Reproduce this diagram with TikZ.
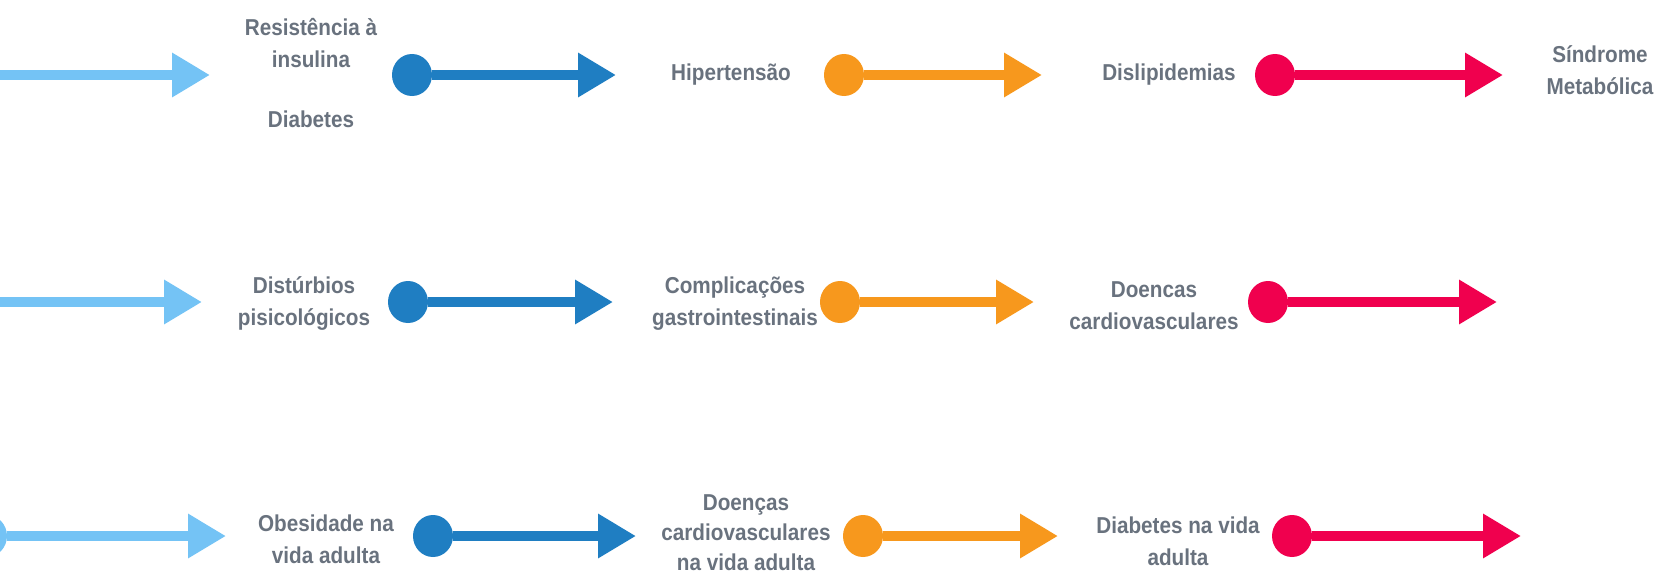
\documentclass[tikz,border=0pt]{standalone}
\usepackage{fontspec}
\setmainfont{Liberation Sans}[FakeStretch=0.9]
\usetikzlibrary{positioning,arrows.meta,shapes.geometric}
\definecolor{skyblue}{RGB}{116,195,245}
\definecolor{deepblue}{RGB}{31,126,194}
\definecolor{amber}{RGB}{247,152,29}
\definecolor{crimson}{RGB}{240,0,78}
\definecolor{textgray}{RGB}{105,114,126}

\begin{document}
\begin{tikzpicture}[x=1pt, y=-1pt,
    >={Triangle[length=38pt, width=42pt]},
    txt/.style={align=center, font=\fontsize{23}{32}\selectfont\bfseries, text=textgray, inner sep=0pt},
    bullet/.style={ellipse, fill=#1, minimum width=40pt, minimum height=42pt, inner sep=0pt},
    flow/.style={->, line width=9.5pt, draw=#1}]
    \useasboundingbox (0,0) rectangle (1671,578);
    \clip (0,0) rectangle (1671,578);

    % first chain
    \coordinate (s1) at (-10,75);
    \coordinate (a1) at (210,75);
    \node[txt] (resist) at (311,43) {Resistência à\\insulina};
    \node[txt] (diab) at (311,119) {Diabetes};
    \node[bullet=deepblue] (p1) at (412,75) {};
    \coordinate (b1) at (616,75);
    \node[txt] (hiper) at (731,75) {Hipertensão};
    \node[bullet=amber] (q1) at (844,75) {};
    \coordinate (c1) at (1042,75);
    \node[txt] (disl) at (1169,75) {Dislipidemias};
    \node[bullet=crimson] (r1) at (1275,75) {};
    \coordinate (d1) at (1503,75);
    \node[txt] (sind) at (1600,70) {Síndrome\\Metabólica};

    \draw[flow=skyblue] (s1) -- (a1);
    \draw[flow=deepblue] (p1) -- (b1);
    \draw[flow=amber] (q1) -- (c1);
    \draw[flow=crimson] (r1) -- (d1);

    % second chain
    \coordinate (s2) at (-10,302);
    \coordinate (a2) at (202,302);
    \node[txt] (dist) at (304,304) {Distúrbios\\pisicológicos};
    \node[bullet=deepblue] (p2) at (408,302) {};
    \coordinate (b2) at (613,302);
    \node[txt] (compl) at (735,304) {Complicações\\gastrointestinais};
    \node[bullet=amber] (q2) at (840,302) {};
    \coordinate (c2) at (1034,302);
    \node[txt] (doenc) at (1154,306) {Doencas\\cardiovasculares};
    \node[bullet=crimson] (r2) at (1268,302) {};
    \coordinate (d2) at (1497,302);

    \draw[flow=skyblue] (s2) -- (a2);
    \draw[flow=deepblue] (p2) -- (b2);
    \draw[flow=amber] (q2) -- (c2);
    \draw[flow=crimson] (r2) -- (d2);

    % third chain
    \node[bullet=skyblue] (o3) at (-13,536) {};
    \coordinate (a3) at (226,536);
    \node[txt] (obes) at (326,539) {Obesidade na\\vida adulta};
    \node[bullet=deepblue] (p3) at (433,536) {};
    \coordinate (b3) at (636,536);
    \node[txt, font=\fontsize{23}{30}\selectfont\bfseries] (dcard) at (746,533) {Doenças\\cardiovasculares\\na vida adulta};
    \node[bullet=amber] (q3) at (863,536) {};
    \coordinate (c3) at (1058,536);
    \node[txt] (dvida) at (1178,541) {Diabetes na vida\\adulta};
    \node[bullet=crimson] (r3) at (1292,536) {};
    \coordinate (d3) at (1521,536);

    \draw[flow=skyblue] (o3) -- (a3);
    \draw[flow=deepblue] (p3) -- (b3);
    \draw[flow=amber] (q3) -- (c3);
    \draw[flow=crimson] (r3) -- (d3);
\end{tikzpicture}
\end{document}
